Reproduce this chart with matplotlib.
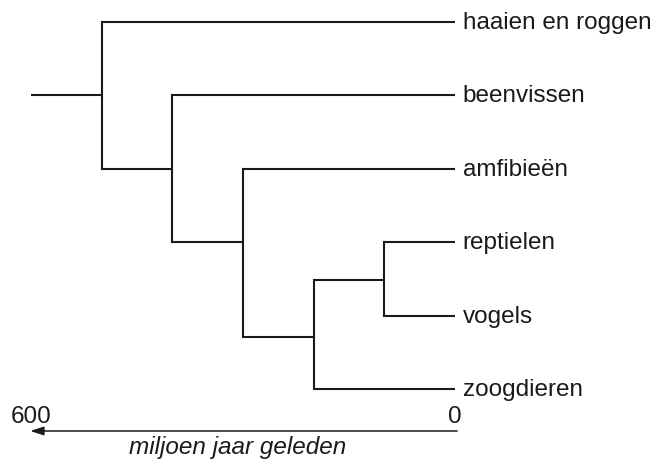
import matplotlib
matplotlib.use("Agg")
import matplotlib.pyplot as plt

plt.rcParams["font.family"] = ["Liberation Sans", "DejaVu Sans"]

# leaves (top to bottom), age 0
leaf_names = ["haaien en roggen", "beenvissen", "amfibieën", "reptielen", "vogels", "zoogdieren"]
leaf_y = [0, 1, 2, 3, 4, 5]

# internal nodes: age in million years, vertical position, children
node_age = [500, 400, 300, 200, 100]
node_y = [1.0, 2.0, 3.0, 4.29, 3.51]
# children given as ("leaf", i) or ("node", j)
node_children = [
    [("leaf", 0), ("node", 1)],
    [("leaf", 1), ("node", 2)],
    [("leaf", 2), ("node", 3)],
    [("node", 4), ("leaf", 5)],
    [("leaf", 3), ("leaf", 4)],
]
root_age = 600
axis_ticks = [600, 0]
axis_label = "miljoen jaar geleden"

COL = "#1a1a1a"
LW = 1.5
FS = 17.5

fig = plt.figure(figsize=(6.6, 4.6), dpi=100)
ax = fig.add_axes([0, 0, 1, 1])
ax.set_axis_off()
# px per million years ~0.7067, 0 My at px 455
scale = 424 / 600
ax.set_xlim(455 / scale, (455 - 660) / scale)
ax.set_ylim((460 - 23) / 73.4, -23 / 73.4)


def pos(kind, i):
    if kind == "leaf":
        return 0, leaf_y[i]
    return node_age[i], node_y[i]


# root stem
ax.plot([root_age, node_age[0]], [node_y[0], node_y[0]], color=COL, lw=LW, solid_capstyle="butt")
for j, children in enumerate(node_children):
    a = node_age[j]
    ys = [pos(k, i)[1] for k, i in children]
    ax.plot([a, a], [min(ys), max(ys)], color=COL, lw=LW, solid_capstyle="projecting")
    for k, i in children:
        ca, cy = pos(k, i)
        ax.plot([a, ca], [cy, cy], color=COL, lw=LW, solid_capstyle="butt")

for name, y in zip(leaf_names, leaf_y):
    ax.text(-11, y, name, fontsize=FS, va="center", ha="left", color=COL)

# time axis arrow
ya = (432 - 23) / 73.4
ax.annotate("", xy=(axis_ticks[0] + 1, ya), xytext=(axis_ticks[1] - 3, ya),
            arrowprops=dict(arrowstyle="-|>,head_length=0.8,head_width=0.26",
                            color=COL, lw=1.1, shrinkA=0, shrinkB=0))
for t in axis_ticks:
    ax.text(t, (417 - 23) / 73.4, str(t), fontsize=FS, ha="center", va="center", color=COL)
ax.text(307, (448 - 23) / 73.4, axis_label, fontsize=FS, style="italic",
        ha="center", va="center", color=COL)

fig.savefig("out.png", dpi=100)
